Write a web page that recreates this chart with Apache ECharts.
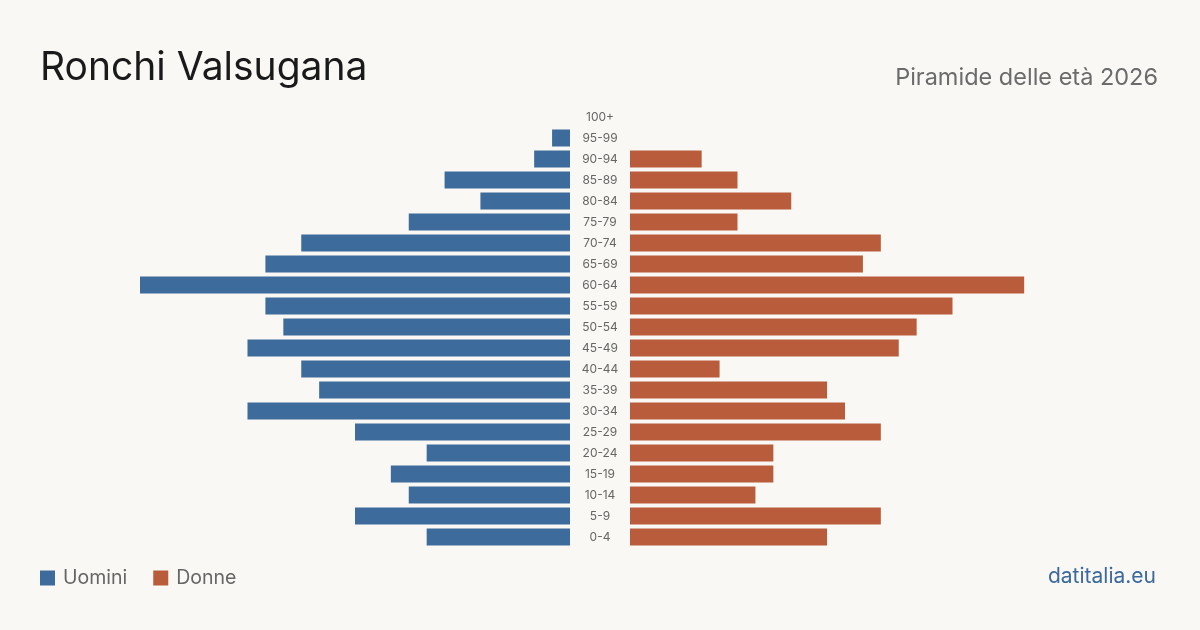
<!DOCTYPE html>
<html><head><meta charset="utf-8">
<script src="https://cdn.jsdelivr.net/npm/echarts@6/dist/echarts.min.js"></script>
<style>html,body{margin:0;padding:0;background:#f9f8f4;}#c{width:1200px;height:630px;}</style>
</head><body><div id="c"></div>
<script>
const categories = ['0-4','5-9','10-14','15-19','20-24','25-29','30-34','35-39','40-44','45-49','50-54','55-59','60-64','65-69','70-74','75-79','80-84','85-89','90-94','95-99','100+'];
const uomini = [8,12,9,10,8,12,18,14,15,18,16,17,24,17,15,9,5,7,2,1,0];
const donne  = [11,14,7,8,8,14,12,11,5,15,16,18,22,13,14,6,9,6,4,0,0];
const AXIS_MAX = 24;
const FONT = 'Inter, "Noto Sans", sans-serif';
const chart = echarts.init(document.getElementById('c'));
chart.setOption({
  backgroundColor:'#f9f8f4',
  animation:false,
  title:[
    {text:'Ronchi Valsugana', left:35, top:44, textStyle:{fontFamily:FONT, fontSize:39, fontWeight:'normal', color:'#1a1a1a'}},
    {text:'Piramide delle età 2026', right:37, top:61, textStyle:{fontFamily:FONT, fontSize:23.5, fontWeight:'normal', color:'#6b6b6b'}},
    {text:'datitalia.eu', right:39, top:561, textStyle:{fontFamily:FONT, fontSize:21, fontWeight:'normal', color:'#3b6a9c'}}
  ],
  legend:{left:35, top:563, itemWidth:15, itemHeight:15, itemGap:26, icon:'rect',
    textStyle:{fontFamily:FONT, fontSize:19.5, color:'#666', padding:[0,0,0,3]}, data:['Uomini','Donne']},
  grid:[
    {left:140, width:430, top:106.5, height:441},
    {left:630, width:430, top:106.5, height:441}
  ],
  xAxis:[
    {gridIndex:0, type:'value', inverse:true, min:0, max:AXIS_MAX, show:false},
    {gridIndex:1, type:'value', min:0, max:AXIS_MAX, show:false}
  ],
  yAxis:[
    {gridIndex:0, type:'category', data:categories, position:'right',
      axisLine:{show:false}, axisTick:{show:false},
      axisLabel:{margin:30, align:'center', fontFamily:FONT, fontSize:12, color:'#666'}},
    {gridIndex:1, type:'category', data:categories, axisLine:{show:false}, axisTick:{show:false}, axisLabel:{show:false}}
  ],
  series:[
    {name:'Uomini', type:'bar', xAxisIndex:0, yAxisIndex:0, data:uomini, barCategoryGap:'19%', itemStyle:{color:'#3d6b9c'}},
    {name:'Donne', type:'bar', xAxisIndex:1, yAxisIndex:1, data:donne, barCategoryGap:'19%', itemStyle:{color:'#b95c3c'}}
  ]
});
</script></body></html>
